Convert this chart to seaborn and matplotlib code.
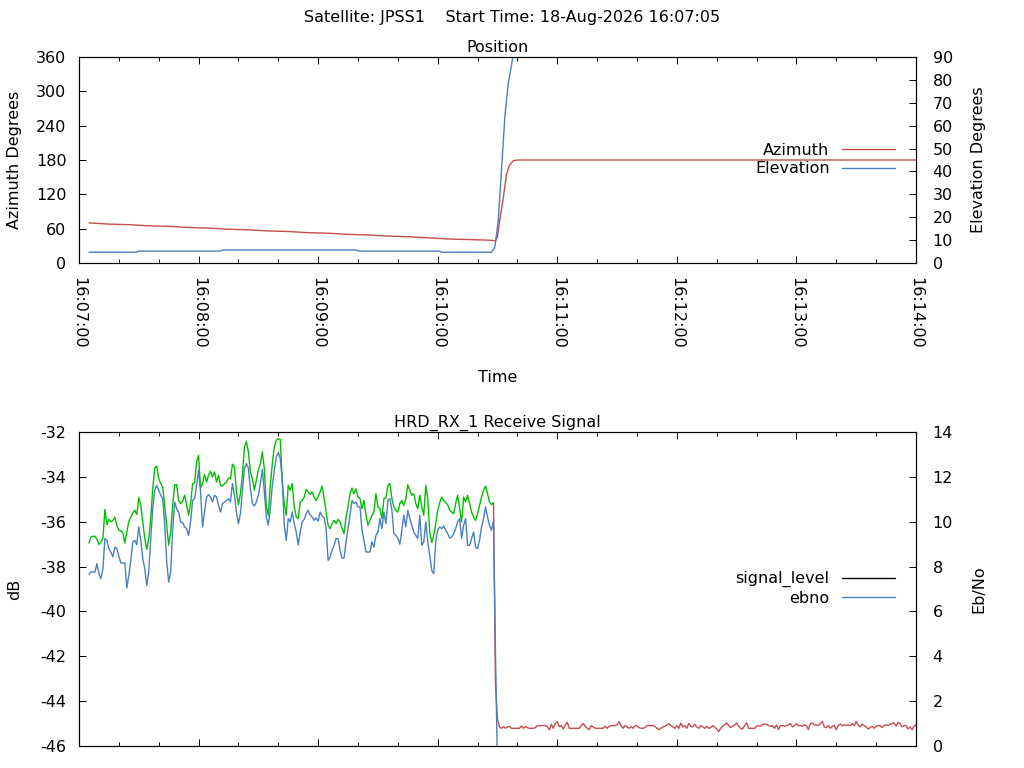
import numpy as np
import pandas as pd
import matplotlib
matplotlib.use("Agg")
import matplotlib.pyplot as plt
import matplotlib.dates as mdates
from matplotlib.lines import Line2D
import seaborn as sns

# values, times in seconds after 16:07:00
az_sec = [5, 15, 25, 35, 45, 55, 65, 75, 85, 95, 105, 115, 125, 135, 145, 155,
          165, 175, 185, 195, 205, 209, 210, 211, 213, 214.5, 216, 218, 220, 420]
az_deg = [70, 68, 67, 65, 64, 62, 61, 59, 58, 56, 55, 53, 52, 50, 49, 47,
          46, 44, 42, 41, 40, 39, 46, 72, 116, 155, 171, 179, 180, 180]

el_sec = [5, 29, 30, 71, 72, 139, 140, 181, 182, 207, 208.7, 210.4, 212.1,
          213.7, 215.4, 217.6, 219]
el_deg = [4.7, 4.7, 5.2, 5.2, 5.7, 5.7, 5.2, 5.2, 4.7, 4.7, 7.1, 18.8, 42.0,
          64.0, 78.5, 89.4, 95.0]

# signal level while locked (green), one sample per second from t=5
sig_start = 5
sig_locked_db = [
    -36.95, -36.68, -36.65, -36.65, -36.78, -37.02, -36.90, -36.75, -35.45, -36.13,
    -35.89, -36.01, -35.94, -35.80, -36.16, -36.38, -36.40, -36.50, -36.95, -36.46,
    -35.98, -35.79, -35.60, -35.49, -35.68, -34.93, -35.27, -36.01, -36.75, -37.23,
    -36.75, -35.86, -34.53, -33.60, -33.52, -34.08, -34.30, -34.45, -35.27, -36.16,
    -37.05, -36.46, -35.27, -34.35, -34.35, -35.05, -35.19, -35.09, -34.82, -35.24,
    -35.71, -35.19, -34.30, -34.26, -33.34, -33.04, -34.50, -34.30, -33.90, -34.23,
    -33.93, -33.75, -34.01, -33.78, -34.23, -33.93, -34.38, -34.41, -34.30, -34.23,
    -34.05, -34.08, -33.44, -33.56, -34.67, -35.24, -34.75, -33.93, -32.67, -32.42,
    -32.89, -33.78, -34.08, -34.60, -34.15, -33.70, -33.41, -32.89, -33.63, -35.34,
    -35.71, -34.38, -33.41, -32.67, -32.37, -32.30, -32.33, -34.23, -35.19, -35.71,
    -34.38, -34.60, -34.30, -35.34, -35.79, -35.86, -35.12, -35.05, -34.90, -34.56,
    -34.67, -34.79, -34.67, -34.90, -35.05, -34.90, -34.67, -34.41, -34.97, -35.57,
    -36.16, -36.31, -36.09, -35.94, -36.09, -35.89, -36.01, -36.31, -36.53, -35.79,
    -35.34, -34.75, -34.50, -34.75, -34.53, -34.90, -34.97, -35.42, -35.05, -35.70,
    -36.16, -35.94, -35.71, -35.57, -34.75, -35.34, -35.42, -35.86, -34.97, -34.95,
    -34.38, -34.30, -34.97, -35.34, -35.49, -35.57, -35.19, -35.05, -35.27, -34.97,
    -34.35, -34.60, -34.82, -34.75, -35.19, -35.42, -34.82, -35.34, -35.71, -34.38,
    -34.97, -36.46, -36.93, -36.61, -36.09, -35.49, -35.15, -34.90, -35.05, -35.15,
    -35.24, -35.49, -35.57, -35.64, -35.19, -34.82, -35.42, -36.01, -34.90, -35.12,
    -34.82, -35.19, -35.57, -35.79, -35.94, -35.64, -35.27, -34.90, -34.60, -34.41,
    -34.75, -35.12, -35.24, -35.15,
]

# signal level after loss of lock (red), one sample per second from t=208
lost_start = 208
sig_lost_db = [
    -35.15, -43.30, -44.84,
    -45.14, -45.21, -45.14, -45.21, -45.15, -45.12, -45.21, -45.21, -45.21, -45.21,
    -45.21, -45.11, -45.21, -45.14, -45.18, -45.21, -45.21, -45.21, -45.18, -45.09,
    -45.09, -45.09, -45.09, -45.09, -45.14, -45.28, -45.03, -45.21, -45.00, -44.91,
    -45.14, -45.09, -45.24, -45.06, -44.94, -45.21, -45.21, -45.21, -45.21, -45.21,
    -45.21, -45.09, -45.00, -45.12, -45.21, -45.27, -45.09, -45.15, -45.21, -45.21,
    -45.21, -45.21, -45.21, -45.12, -45.21, -45.12, -45.09, -45.09, -45.09, -45.06,
    -44.91, -45.09, -45.21, -45.09, -45.15, -45.21, -45.14, -45.21, -45.09, -45.09,
    -45.18, -45.21, -45.21, -45.18, -45.09, -45.09, -45.09, -45.09, -45.12, -45.21,
    -45.27, -45.21, -45.15, -45.12, -45.06, -45.00, -45.09, -45.15, -45.21, -45.09,
    -45.21, -44.97, -45.15, -45.09, -45.21, -45.00, -45.12, -45.15, -45.03, -45.15,
    -45.21, -45.09, -45.15, -45.21, -45.12, -45.21, -45.18, -45.09, -45.15, -45.24,
    -45.36, -45.21, -45.12, -45.06, -44.97, -45.09, -45.18, -45.12, -45.06, -44.97,
    -45.12, -45.21, -45.24, -45.09, -44.97, -45.21, -45.21, -45.21, -45.21, -45.12,
    -45.09, -45.12, -45.03, -45.03, -45.03, -45.09, -45.12, -45.09, -45.21, -45.06,
    -45.27, -45.09, -45.09, -45.12, -45.09, -45.06, -45.00, -45.15, -45.09, -45.00,
    -45.09, -45.09, -45.12, -45.06, -45.09, -45.27, -45.00, -44.97, -45.06, -45.06,
    -45.09, -45.00, -44.91, -45.15, -45.18, -45.09, -45.21, -45.12, -45.09, -45.27,
    -45.09, -45.03, -45.09, -45.06, -45.09, -45.06, -45.09, -45.00, -45.09, -44.91,
    -45.06, -45.15, -45.03, -45.09, -45.15, -45.24, -45.18, -45.12, -45.21, -45.12,
    -45.09, -45.09, -45.18, -45.09, -45.06, -45.09, -45.03, -45.00, -44.97, -45.12,
    -44.94, -45.00, -45.15, -45.09, -45.09, -45.24, -45.15, -45.27, -45.12, -45.06,
]

# Eb/No, one sample per second from t=5
ebno_start = 5
ebno = [
    7.66, 7.76, 7.76, 7.76, 8.13, 7.68, 7.46, 7.91, 9.25, 9.17,
    8.80, 8.65, 8.43, 8.87, 8.80, 8.47, 8.16, 8.16, 8.16, 7.05,
    7.61, 8.28, 9.10, 9.17, 8.98, 9.77, 9.17, 8.35, 7.91, 7.16,
    7.76, 9.25, 10.58, 11.40, 11.62, 11.40, 11.18, 11.03, 9.90, 8.21,
    7.31, 7.76, 9.66, 10.88, 10.58, 10.43, 9.99, 9.96, 9.77, 9.69,
    9.39, 9.99, 10.95, 11.03, 11.62, 12.29, 11.33, 9.77, 10.43, 11.10,
    11.21, 11.10, 10.88, 11.18, 11.10, 10.73, 10.43, 10.81, 10.88, 10.95,
    11.03, 10.88, 11.70, 11.18, 10.43, 9.91, 10.36, 11.40, 12.37, 12.59,
    12.37, 11.47, 10.81, 10.70, 10.88, 11.18, 11.70, 12.34, 11.33, 10.21,
    9.84, 10.58, 11.62, 12.29, 12.89, 13.08, 12.81, 11.85, 9.84, 9.17,
    10.14, 9.99, 10.43, 9.91, 9.54, 8.95, 9.54, 9.99, 10.11, 10.36,
    10.51, 10.29, 10.21, 10.06, 10.17, 10.02, 10.43, 10.26, 10.17, 9.69,
    8.28, 8.43, 8.73, 8.95, 9.25, 9.25, 8.73, 8.38, 8.38, 9.10,
    9.69, 10.29, 10.95, 10.81, 10.88, 10.66, 10.66, 9.62, 9.17, 8.65,
    8.65, 8.65, 9.10, 8.87, 9.39, 9.54, 10.14, 9.69, 10.43, 9.91,
    10.95, 11.03, 10.51, 9.47, 9.39, 9.27, 9.00, 9.62, 10.29, 9.77,
    10.51, 10.14, 9.84, 9.54, 9.39, 9.25, 10.29, 8.95, 9.10, 9.99,
    9.10, 8.50, 7.83, 7.68, 9.10, 9.62, 9.77, 9.69, 9.81, 9.62,
    9.47, 9.27, 9.32, 9.47, 9.69, 9.99, 10.14, 9.25, 9.84, 10.14,
    8.95, 8.95, 9.25, 9.54, 8.87, 8.80, 9.17, 9.77, 10.14, 10.66,
    10.21, 9.84, 9.62, 10.06, 4.00, -1.00,
]

t0 = pd.Timestamp("2026-08-18 16:07:00")
RED = "#c44e4e"
BLUE = "#4a7fc1"
GREEN = "#00c000"


def to_time(sec):
    return t0 + pd.to_timedelta(np.asarray(sec, dtype=float), unit="s")


def per_second(start, values):
    return to_time(start + np.arange(len(values)))


az_df = pd.DataFrame({"time": to_time(az_sec), "Azimuth": az_deg})
el_df = pd.DataFrame({"time": to_time(el_sec), "Elevation": el_deg})
lock_df = pd.DataFrame({"time": per_second(sig_start, sig_locked_db), "dB": sig_locked_db})
lost_df = pd.DataFrame({"time": per_second(lost_start, sig_lost_db), "dB": sig_lost_db})
ebno_df = pd.DataFrame({"time": per_second(ebno_start, ebno), "ebno": ebno})

sns.set_style("ticks", {"xtick.direction": "in", "ytick.direction": "in",
                        "axes.edgecolor": "black", "xtick.color": "black",
                        "ytick.color": "black", "text.color": "black",
                        "axes.labelcolor": "black"})
plt.rcParams["font.family"] = ["DejaVu Sans"]
plt.rcParams["font.size"] = 11.5
plt.rcParams["axes.linewidth"] = 0.8
plt.rcParams["axes.unicode_minus"] = False

fig = plt.figure(figsize=(10.24, 7.68), dpi=100)
W, H = 1024.0, 768.0
lw = 1.0


def frame(ax, axr, ylim, yticks, ylim_r, yticks_r):
    ax.set_xlim(t0, t0 + pd.Timedelta(seconds=420))
    ax.set_ylim(*ylim)
    ax.set_yticks(yticks)
    axr.set_ylim(*ylim_r)
    axr.set_yticks(yticks_r)
    ax.xaxis.set_major_locator(mdates.MinuteLocator())
    ax.xaxis.set_minor_locator(mdates.SecondLocator(bysecond=[20, 40]))
    ax.xaxis.set_major_formatter(mdates.DateFormatter("%H:%M:%S"))
    ax.tick_params(axis="x", which="major", top=True, bottom=True, length=5, width=0.7)
    ax.tick_params(axis="x", which="minor", top=True, bottom=True, length=3, width=0.7)
    ax.tick_params(axis="y", length=5, width=0.7, pad=9)
    axr.tick_params(axis="y", length=5, width=0.7, pad=12)
    for a in (ax, axr):
        for s in a.spines.values():
            s.set_linewidth(0.8)
            s.set_color("black")


# --- top panel: position ---
ax1 = fig.add_axes([79 / W, 1 - 263 / H, 837 / W, 206 / H])
ax1r = ax1.twinx()
sns.lineplot(data=az_df, x="time", y="Azimuth", ax=ax1, color=RED, lw=lw, legend=False)
sns.lineplot(data=el_df, x="time", y="Elevation", ax=ax1r, color=BLUE, lw=lw, legend=False)
frame(ax1, ax1r, (0, 360), range(0, 361, 60), (0, 90), range(0, 91, 10))
ax1.tick_params(axis="x", labelrotation=-90, pad=10)
ax1.set_title("Position", pad=3.5, fontsize=11.5)
ax1.set_xlabel("Time")
ax1.set_ylabel("Azimuth Degrees")
ax1r.set_ylabel("Elevation Degrees")
ax1.xaxis.set_label_coords(0.5, (263 - 370) / 206)
ax1.yaxis.set_label_coords((22 - 79) / 837, 0.5)
ax1r.yaxis.set_label_coords((971 - 79) / 837, 0.5)
ax1r.legend([Line2D([], [], color=RED, lw=lw), Line2D([], [], color=BLUE, lw=lw)],
            ["Azimuth", "Elevation"], loc="center right",
            bbox_to_anchor=(0.975, 0.502), frameon=False, markerfirst=False,
            handlelength=3.3, handletextpad=0.8, labelspacing=0.22,
            borderpad=0, borderaxespad=0)

# --- bottom panel: receive signal ---
ax2 = fig.add_axes([79 / W, 1 - 746 / H, 837 / W, 314 / H])
ax2r = ax2.twinx()
sns.lineplot(data=lock_df, x="time", y="dB", ax=ax2, color=GREEN, lw=lw, legend=False)
sns.lineplot(data=lost_df, x="time", y="dB", ax=ax2, color=RED, lw=lw, legend=False)
sns.lineplot(data=ebno_df, x="time", y="ebno", ax=ax2r, color=BLUE, lw=lw, legend=False)
frame(ax2, ax2r, (-46, -32), range(-46, -31, 2), (0, 14), range(0, 15, 2))
ax2.tick_params(axis="x", labelbottom=False)
ax2.set_xlabel("")
ax2.set_title("HRD_RX_1 Receive Signal", pad=3.5, fontsize=11.5)
ax2.set_ylabel("dB")
ax2r.set_ylabel("Eb/No")
ax2.yaxis.set_label_coords((22 - 79) / 837, 0.5)
ax2r.yaxis.set_label_coords((971 - 79) / 837, 0.5)
ax2r.legend([Line2D([], [], color="black", lw=lw), Line2D([], [], color=BLUE, lw=lw)],
            ["signal_level", "ebno"], loc="center right",
            bbox_to_anchor=(0.975, 0.5016), frameon=False, markerfirst=False,
            handlelength=3.3, handletextpad=0.8, labelspacing=0.22,
            borderpad=0, borderaxespad=0)

fig.text(0.5, 1 - 22 / H, "Satellite: JPSS1    Start Time: 18-Aug-2026 16:07:05",
         ha="center", va="baseline", fontsize=11.5)

fig.savefig("out.png", dpi=100)
